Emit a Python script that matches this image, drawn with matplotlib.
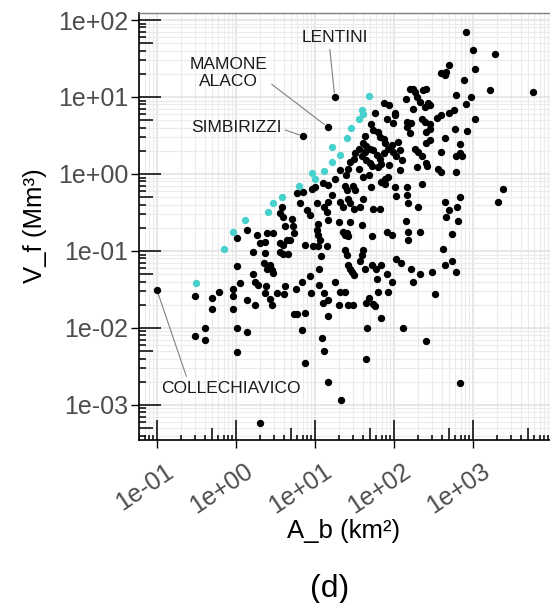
import numpy as np
import matplotlib
matplotlib.use("Agg")
import matplotlib.pyplot as plt
from matplotlib.ticker import LogLocator, FuncFormatter, NullFormatter
from matplotlib.transforms import ScaledTranslation

plt.rcParams['font.family'] = ['Liberation Sans', 'DejaVu Sans']

# values, as log10(A_b [km2]) and log10(V_f [Mm3])
black_log_A = [
    -0.52, -0.30, -0.22, -0.30, -0.39, -0.52, -0.39, 0.14, 0.01, 0.01, -0.04, 0.05, -0.04, 0.14,
    -0.04, 0.01, 0.14, 0.01, 0.21, 0.21, 0.26, 0.39, 0.47, 0.37, 0.56, 0.60, 0.66, 0.64, 0.30,
    0.37, 0.35, 0.39, 0.43, 0.45, 0.47, 0.24, 0.28, 0.38, 0.37, 0.52, 0.61, 0.62, 0.43, 0.45,
    0.24, 0.76, 0.83, 0.94, 0.95, 1.05, 1.11, 1.17, 1.10, 0.98, 1.04, 1.08, 1.05, 0.73, 0.77,
    0.87, 0.84, 1.09, 1.11, 0.87, 1.17, 1.17, 0.30, 1.33, 1.65, 1.66, 2.11, 2.83, 2.40, 2.52,
    0.77, 0.85, 0.96, 1.00, 1.10, 1.16, 0.58, 0.56, 0.60, 0.71, 0.81, 0.90, 0.94, 1.02, 1.11,
    1.15, 1.02, 1.04, 1.06, 0.72, 0.73, 0.68, 0.87, 1.15, 0.56, 0.60, 1.04, 1.17, 0.62, 1.17,
    1.30, 1.36, 1.41, 1.25, 1.31, 1.42, 1.87, 1.94, 1.76, 2.01, 1.91, 1.99, 2.16, 1.71, 1.74,
    1.80, 1.82, 1.87, 1.63, 1.61, 1.65, 1.63, 1.70, 1.74, 1.89, 1.97, 2.05, 1.93, 1.99, 2.08,
    1.78, 1.82, 1.87, 1.56, 1.51, 1.49, 1.59, 1.65, 1.69, 1.44, 1.42, 1.39, 1.72, 1.80, 2.03,
    2.10, 1.84, 1.94, 2.08, 1.56, 1.32, 1.25, 1.61, 1.68, 1.89, 1.92, 1.84, 1.89, 1.38, 1.40,
    1.48, 1.51, 1.71, 2.01, 2.03, 2.16, 1.21, 1.32, 1.36, 1.42, 1.44, 1.49, 1.57, 1.61, 1.74,
    1.82, 1.44, 1.59, 1.38, 1.42, 1.72, 1.91, 1.97, 2.18, 2.18, 1.38, 1.40, 1.61, 1.59, 1.57,
    1.42, 1.44, 1.47, 1.49, 1.63, 1.72, 1.77, 1.84, 1.78, 1.91, 1.98, 2.03, 2.09, 1.32, 1.38,
    1.80, 1.93, 1.68, 1.65, 1.74, 1.76, 1.48, 1.84, 2.91, 3.00, 3.28, 3.03, 2.70, 2.66, 2.59,
    2.65, 2.88, 3.22, 3.76, 2.79, 2.98, 2.91, 3.03, 2.70, 2.76, 2.54, 2.24, 2.27, 2.37, 2.41,
    2.29, 2.33, 2.39, 2.43, 2.46, 2.24, 2.36, 2.39, 2.45, 2.22, 2.77, 2.92, 2.65, 2.45, 2.41,
    2.84, 2.27, 2.31, 2.35, 2.60, 2.84, 2.86, 2.79, 2.29, 2.41, 2.42, 2.56, 2.59, 2.79, 2.36,
    3.38, 3.32, 2.84, 2.64, 2.80, 2.70, 2.66, 2.81, 2.31, 2.33, 2.74, 2.62, 2.65, 2.73, 2.79,
    2.48, 2.33, 2.22, 2.24, 2.15, 2.20, 2.01, 2.16, 2.46, 2.41, 2.60, 2.16, 2.20, 2.15, 2.18,
]
black_log_V = [
    -1.59, -1.61, -1.53, -1.75, -2.00, -2.10, -2.16, -0.73, -0.83, -1.19, -1.49, -1.41, -1.59, -1.64,
    -1.75, -2.00, -2.05, -2.31, -1.30, -1.01, -0.79, -0.77, -0.77, -1.03, -1.01, -1.04, -1.04, -0.86, -0.90,
    -0.88, -1.16, -1.23, -1.18, -1.25, -1.29, -1.40, -1.44, -1.46, -1.54, -1.55, -1.56, -1.46, -1.63, -1.70,
    -1.70, -1.50, -1.40, -1.32, -1.55, -1.44, -1.55, -1.64, -1.67, -0.94, -0.94, -1.07, -1.23, -1.82, -1.82,
    -1.80, -2.03, -2.13, -2.30, -2.46, -2.70, -1.85, -3.23, -2.93, -2.40, -2.00, -2.00, -2.71, -2.17, -1.56,
    -0.25, -0.23, -0.19, -0.17, -0.12, -0.14, -0.43, -0.51, -0.56, -0.59, -0.38, -0.47, -0.53, -0.38, -0.43,
    -0.49, -0.73, -0.79, -0.86, -0.68, -0.77, -0.86, -0.92, -0.94, -0.90, -0.92, -0.65, -0.60, -0.68, -0.36,
    -0.62, -0.75, -0.77, -1.40, -1.70, -1.70, 0.92, 0.90, 0.79, 0.79, 0.71, 0.66, 0.68, 0.65, 0.57,
    0.54, 0.48, 0.46, 0.49, 0.40, 0.36, 0.29, 0.33, 0.31, 0.40, 0.38, 0.41, 0.32, 0.29, 0.31,
    0.25, 0.20, 0.27, 0.33, 0.27, 0.20, 0.23, 0.18, 0.14, 0.16, 0.07, -0.01, 0.10, 0.09, 0.23,
    0.18, 0.13, 0.12, 0.05, 0.07, 0.05, -0.06, -0.04, -0.01, -0.06, -0.04, -0.10, -0.13, -0.16, -0.21,
    -0.16, -0.21, -0.17, -0.17, -0.29, -0.27, -0.27, -0.36, -0.43, -0.32, -0.38, -0.45, -0.43, -0.32, -0.45,
    -0.46, -0.63, -0.66, -0.79, -0.81, -0.81, -0.75, -0.79, -0.75, -0.38, -0.99, -1.05, -0.99, -1.05, -1.13,
    -1.18, -1.23, -1.27, -1.31, -1.23, -1.18, -1.23, -1.18, -1.37, -1.30, -1.40, -1.10, -1.16, -1.53, -1.53,
    -1.53, -1.53, -1.61, -1.67, -1.69, -1.71, -1.70, -1.87, 1.85, 1.61, 1.56, 1.37, 1.42, 1.33, 1.31,
    1.29, 1.22, 1.09, 1.06, 1.03, 1.00, 0.91, 0.71, 0.79, 0.83, 0.73, 1.11, 1.07, 1.09, 1.11,
    1.00, 0.94, 0.87, 0.92, 0.90, 0.84, 0.72, 0.68, 0.65, 0.66, 0.59, 0.56, 0.47, 0.44, 0.40,
    0.39, 0.33, 0.28, 0.23, 0.29, 0.27, 0.23, 0.23, 0.09, 0.14, 0.10, 0.07, 0.02, 0.03, -0.13,
    -0.20, -0.37, -0.30, -0.36, -0.43, -0.47, -0.56, -0.61, -0.43, -0.75, -0.78, -0.98, -1.18, -1.13, -1.27,
    -1.27, -1.30, -1.23, -1.40, 0.97, 1.10, 0.77, 0.61, 0.59, 0.55, 0.77, -0.17, 0.53, -0.61, -0.86,
]
# upper envelope points (turquoise)
cyan_log_A = [-0.51, -0.15, -0.04, 0.12, 0.40, 0.47, 0.58, 0.80, 0.96, 1.00,
              1.11, 1.22, 1.32, 1.22, 1.40, 1.46, 1.56, 1.59, 1.61, 1.68]
cyan_log_V = [-1.42, -0.97, -0.75, -0.60, -0.49, -0.38, -0.30, -0.16, 0.01, -0.06,
              0.04, 0.15, 0.25, 0.35, 0.47, 0.60, 0.72, 0.83, 0.78, 1.01]

# labelled dams: point, label position, where the leader line leaves the label
names = ['LENTINI', 'MAMONE\nALACO', 'SIMBIRIZZI', 'COLLECHIAVICO']
named_log_A = [1.25, 1.16, 0.85, -1.00]
named_log_V = [1.00, 0.61, 0.49, -1.51]
text_log_A = [1.25, -0.09, 0.00, -0.06]
text_log_V = [1.77, 1.31, 0.61, -2.78]
line_from = [(0.42, 0.0), (0.98, 0.28), (1.0, 0.4), (0.19, 0.95)]

fig = plt.figure(figsize=(5.5, 6.03), dpi=100)
ax = fig.add_axes([139 / 550, 163 / 603, 411 / 550, 427 / 603])
ax.set_xscale('log')
ax.set_yscale('log')
ax.set_xlim(10 ** -1.228, 10 ** 3.975)
ax.set_ylim(10 ** -3.455, 10 ** 2.091)

for axis in (ax.xaxis, ax.yaxis):
    axis.set_major_locator(LogLocator(base=10, numticks=20))
    axis.set_minor_locator(LogLocator(base=10, subs=np.arange(2, 10), numticks=20))
    axis.set_minor_formatter(NullFormatter())
    axis.set_major_formatter(FuncFormatter(lambda v, p: f"{v:.0e}"))

ax.set_axisbelow(True)
ax.grid(which='major', color='#E3E3E3', lw=1.2)
ax.grid(which='minor', color='#EBEBEB', lw=0.8)
ax.tick_params(which='minor', length=0)
ax.tick_params(which='major', length=5.8, width=1.0, color='black',
               labelsize=18, labelcolor='#4D4D4D')
ax.tick_params(axis='y', pad=2)
ax.tick_params(axis='x', pad=8)

for lab in ax.get_xticklabels():
    lab.set_rotation(34)
    lab.set_ha('right')
    lab.set_va('top')
    lab.set_rotation_mode('anchor')
    lab.set_transform(lab.get_transform() + ScaledTranslation(0.08, 0, fig.dpi_scale_trans))

for side in ['left', 'bottom']:
    ax.spines[side].set_color('black')
    ax.spines[side].set_linewidth(1.2)
ax.spines['top'].set_color('#7F7F7F')
ax.spines['top'].set_linewidth(1.0)
ax.spines['right'].set_visible(False)

# log ticks drawn inside the panel (long at 1, mid at 5, short at the rest)
for d in range(-4, 5):
    for s in range(1, 10):
        v = s * 10.0 ** d
        hx = 0.047 if s == 1 else (0.028 if s == 5 else 0.012)
        hy = 0.0535 if s == 1 else (0.034 if s == 5 else 0.018)
        if 10 ** -1.228 <= v <= 10 ** 3.975:
            ax.plot([v, v], [0, hx], transform=ax.get_xaxis_transform(),
                    color='black', lw=1.1, solid_capstyle='butt', zorder=2)
        if 10 ** -3.455 <= v <= 10 ** 2.091:
            ax.plot([0, hy], [v, v], transform=ax.get_yaxis_transform(),
                    color='black', lw=1.1, solid_capstyle='butt', zorder=2)

ax.scatter(10 ** np.array(black_log_A), 10 ** np.array(black_log_V),
           s=28, color='black', linewidths=0, zorder=3)
ax.scatter(10 ** np.array(named_log_A), 10 ** np.array(named_log_V),
           s=28, color='black', linewidths=0, zorder=3)
ax.scatter(10 ** np.array(cyan_log_A), 10 ** np.array(cyan_log_V),
           s=28, color='#48D1CC', linewidths=0, zorder=4)

for name, a, v, ta, tv, rp in zip(names, named_log_A, named_log_V,
                                  text_log_A, text_log_V, line_from):
    ax.annotate(name, xy=(10 ** a, 10 ** v), xytext=(10 ** ta, 10 ** tv),
                ha='center', va='center', fontsize=12.5, color='#1A1A1A',
                linespacing=1.15,
                arrowprops=dict(arrowstyle='-', color='#808080', lw=0.8,
                                relpos=rp, shrinkA=1, shrinkB=3))

fig.text(344 / 550, (603 - 531) / 603, 'A_b (km²)', ha='center', va='center',
         fontsize=18.5, color='black')
fig.text(35 / 550, (603 - 226) / 603, 'V_f (Mm³)', ha='center', va='center',
         rotation=90, fontsize=18.5, color='black')
fig.text(330 / 550, 0.01, '(d)', ha='center', va='baseline', fontsize=23, color='black')

fig.savefig('out.png', dpi=100)
